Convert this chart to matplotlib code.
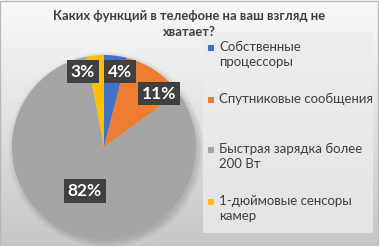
import numpy as np
import matplotlib.pyplot as plt
from matplotlib.patches import Rectangle, Circle

plt.rcParams['font.family'] = ['Lato', 'Open Sans', 'DejaVu Sans']

title = "Каких функций в телефоне на ваш взгляд не\nхватает?"
categories = ["Собственные\nпроцессоры", "Спутниковые сообщения",
              "Быстрая зарядка более\n200 Вт", "1-дюймовые сенсоры\nкамер"]
values = [4, 11, 82, 3]
colors = ["#4472C4", "#ED7D31", "#A5A5A5", "#FFC000"]

# label box positions (pie data units, radius = 1)
label_pos = [(0.17, 0.82), (0.60, 0.58), (-0.21, -0.48), (-0.23, 0.82)]

W, H = 379, 246
fig = plt.figure(figsize=(W / 100, H / 100), dpi=100)

# gradient background
bg = fig.add_axes([0, 0, 1, 1])
grad = np.linspace(0.975, 0.78, 256).reshape(-1, 1)
bg.imshow(grad, aspect="auto", cmap="gray", vmin=0, vmax=1, extent=[0, 1, 0, 1])
bg.add_patch(Rectangle((0.001, 0.002), 0.997, 0.995, fill=False,
                       edgecolor="#b8b8b8", lw=1, transform=bg.transAxes))
bg.set_xlim(0, 1)
bg.set_ylim(0, 1)
bg.axis("off")

# legend box
bg.add_patch(Rectangle((203 / W, 1 - 233 / H), 170 / W, 201 / H,
                       facecolor="#ebebeb", edgecolor="none", alpha=0.8))

fig.text(189 / W, 1 - 24.5 / H, title, ha="center", va="center",
         fontsize=9.4, fontweight="bold", color="#404040", linespacing=1.4)

# pie
cx, cy, r = 104, 147, 92
ax = fig.add_axes([(cx - r) / W, (H - cy - r) / H, 2 * r / W, 2 * r / H])
ax.set_xlim(-1, 1)
ax.set_ylim(-1, 1)
# soft shadow
for k in range(6):
    ax.add_patch(Circle((0.02, -0.03), 1.0 + 0.012 * k, facecolor="black",
                        alpha=0.025, edgecolor="none", clip_on=False, zorder=0))
ax.pie(values, colors=colors, startangle=90, counterclock=False, radius=1,
       wedgeprops=dict(linewidth=0, zorder=1))
ax.set_xlim(-1, 1)
ax.set_ylim(-1, 1)
ax.set_aspect("auto")
ax.axis("off")

for v, (x, y) in zip(values, label_pos):
    ax.text(x, y, f"{v}%", ha="center", va="center", fontsize=12.5,
            fontweight="bold", color="white", zorder=3,
            bbox=dict(boxstyle="square,pad=0.22", facecolor="#404040",
                      edgecolor="none"))

# legend
legend_y = [48, 100, 150, 202]
for cat, col, y in zip(categories, colors, legend_y):
    bg.add_patch(Rectangle((207.5 / W, 1 - (y + 3) / H), 6 / W, 6 / H,
                           facecolor=col, edgecolor="none"))
    fig.text(219 / W, 1 - (y - 7) / H, cat, ha="left", va="top",
             fontsize=9.5, color="#404040", linespacing=1.3)

fig.savefig("out.png", dpi=100)
